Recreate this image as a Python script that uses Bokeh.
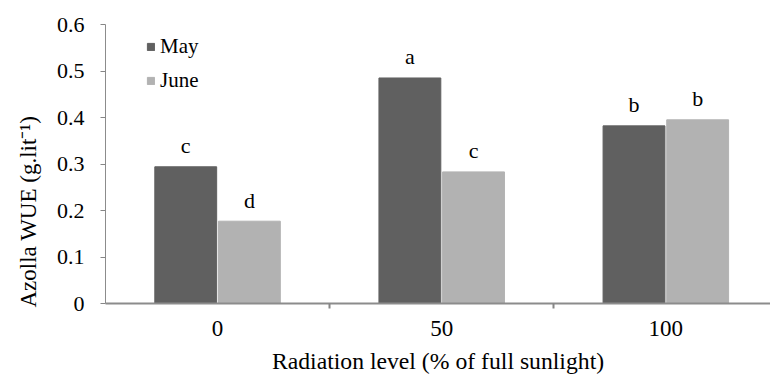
from bokeh.plotting import figure
from bokeh.models import Range1d, FixedTicker, Legend, LegendItem, ColumnDataSource, Title
from bokeh.core.properties import value
from bokeh.embed import file_html
from bokeh.resources import INLINE

categories = ["0", "50", "100"]
may = [0.294, 0.485, 0.382]
june = [0.177, 0.283, 0.395]
may_letters = ["c", "a", "b"]
june_letters = ["d", "c", "b"]
series_names = ["May", "June"]
colors = ["#606060", "#b2b2b2"]
x_title = "Radiation level (% of full sunlight)"
y_title = "Azolla WUE (g.lit\u207b\u00b9)"

FONT = "Liberation Serif"
centers = [i + 0.5 for i in range(len(categories))]

p = figure(width=770, height=376, output_backend="svg", toolbar_location=None,
           x_range=Range1d(0, 2.967), y_range=Range1d(0, 0.6),
           min_border_left=101, min_border_right=0, min_border_top=24, min_border_bottom=72)
p.outline_line_color = None
p.xgrid.visible = False
p.ygrid.visible = False

bw = 0.276
off = 0.142
src_may = ColumnDataSource(dict(x=[c - off for c in centers], top=may, lab=may_letters))
src_june = ColumnDataSource(dict(x=[c + off for c in centers], top=june, lab=june_letters))
r1 = p.vbar(x="x", top="top", width=bw, source=src_may, fill_color=colors[0], line_color=colors[0])
r2 = p.vbar(x="x", top="top", width=bw, source=src_june, fill_color=colors[1], line_color=colors[1])

for s in (src_may, src_june):
    p.text(x="x", y="top", text="lab", source=s, text_align="center", text_baseline="alphabetic",
           y_offset=-21, text_font=value(FONT), text_font_size="22px", text_color="black")

# axes
p.xaxis.ticker = FixedTicker(ticks=centers, minor_ticks=[1, 2, 3])
p.xaxis.major_label_overrides = {c: lab for c, lab in zip(centers, categories)}
p.xaxis.major_tick_out = 0
p.xaxis.major_tick_in = 0
p.xaxis.minor_tick_out = 5
p.xaxis.minor_tick_in = 0
p.xaxis.minor_tick_line_color = "#868686"
p.xaxis.minor_tick_line_width = 2
p.xaxis.axis_line_color = "#8c8c8c"
p.xaxis.axis_line_width = 2
p.xaxis.major_label_text_font = FONT
p.xaxis.major_label_text_font_size = "23px"
p.xaxis.major_label_text_color = "black"
p.xaxis.major_label_text_line_height = 1.0
p.xaxis.major_label_standoff = 12
p.xaxis.axis_label = x_title
p.xaxis.axis_label_text_font = FONT
p.xaxis.axis_label_text_font_style = "normal"
p.xaxis.axis_label_text_font_size = "23.7px"
p.xaxis.axis_label_text_color = "black"
p.xaxis.axis_label_text_line_height = 1.0
p.xaxis.axis_label_standoff = 9

p.yaxis.ticker = FixedTicker(ticks=[0, 0.1, 0.2, 0.3, 0.4, 0.5, 0.6])
p.yaxis.major_label_overrides = {0: "0"}
p.yaxis.minor_tick_line_color = None
p.yaxis.major_tick_out = 5
p.yaxis.major_tick_in = 0
p.yaxis.major_tick_line_color = "#868686"
p.yaxis.axis_line_color = "#8c8c8c"
p.yaxis.axis_line_width = 1
p.yaxis.major_label_text_font = FONT
p.yaxis.major_label_text_font_size = "22px"
p.yaxis.major_label_text_color = "black"
p.yaxis.major_label_standoff = 16

# y title sits low along the axis in the reference: use a left-side title aligned to the bottom
p.add_layout(Title(text=y_title, align="left", offset=-4, standoff=26,
                   text_font=FONT, text_font_size="23px", text_font_style="normal",
                   text_color="black"), "left")

legend = Legend(items=[LegendItem(label=series_names[0], renderers=[r1]),
                       LegendItem(label=series_names[1], renderers=[r2])],
                location=(41, 210), border_line_color=None, background_fill_alpha=0,
                glyph_width=9, glyph_height=9, spacing=9, padding=0, margin=0,
                label_text_font=FONT, label_text_font_size="21px", label_standoff=5,
                label_text_color="black", label_height=21)
p.add_layout(legend)

open("out.html", "w").write(file_html(p, INLINE))
